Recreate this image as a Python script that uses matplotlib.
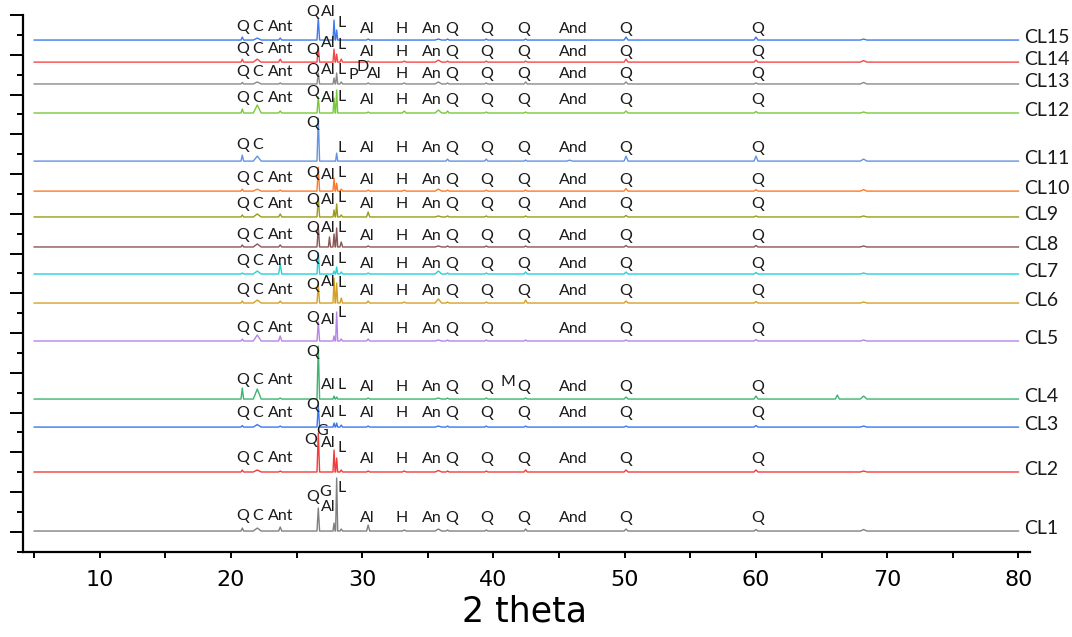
"""Stacked XRD patterns CL1-CL15 with phase labels"""
import matplotlib

matplotlib.use("Agg")
import matplotlib.pyplot as plt
import numpy as np
from matplotlib.ticker import MultipleLocator

# Samples, bottom to top
samples = ["CL1", "CL2", "CL3", "CL4", "CL5", "CL6", "CL7", "CL8",
           "CL9", "CL10", "CL11", "CL12", "CL13", "CL14", "CL15"]
colors = ["#808080", "#f23b3b", "#3a78f2", "#3cb370", "#b585e6", "#d6a025",
          "#26d0dc", "#8a5656", "#9b9b17", "#ff7a2a", "#6393e0", "#78c83c",
          "#8a8a8a", "#f54848", "#3b7af0"]
# vertical offset of each pattern (in y tick steps)
offsets = [1.04, 4.01, 6.27, 7.68, 10.6, 12.51, 13.97, 15.33,
           16.84, 18.14, 19.65, 22.07, 23.53, 24.63, 25.74]

# 2 theta range of the scans
two_theta_start, two_theta_end = 5.0, 80.0

# peak positions (2 theta), half widths and heights
peak_pos = [20.86, 22.0, 23.75, 26.65, 27.5, 27.85, 28.05, 28.4, 30.45, 33.2,
            35.8, 36.5, 39.45, 42.45, 45.8, 50.1, 60.0, 66.2, 68.2]
peak_hw = [0.1, 0.3, 0.12, 0.1, 0.08, 0.08, 0.08, 0.1, 0.12, 0.15,
           0.25, 0.12, 0.12, 0.12, 0.2, 0.15, 0.15, 0.15, 0.25]
heights = [
    [3, 3, 4, 23, 0, 8, 53, 2, 6, 1, 2, 1, 1, 2, 0, 2, 1.5, 0, 1.5],      # CL1
    [2, 2, 1, 39, 0, 22, 14, 2, 1, 1, 1.5, 1, 1, 2, 0, 2, 2, 0, 1],       # CL2
    [1.5, 2.5, 1, 22, 0, 4, 4, 2, 1, 0, 1, 1, 1, 1, 0, 1, 1.5, 0, 1],     # CL3
    [11, 10, 1, 53, 0, 3, 2, 0, 1, 0, 1, 1, 1, 1, 0, 2, 3, 4, 3],         # CL4
    [2, 6, 5, 19, 0, 5, 29, 2, 2, 0, 1, 1, 1, 1, 0, 1, 1.5, 0, 1],        # CL5
    [2, 3, 2, 18, 0, 25, 20, 5, 2, 1, 4, 1, 1, 3, 0, 2, 1.5, 0, 1],       # CL6
    [1, 3, 10, 21, 0, 3, 7, 2, 1, 0, 3, 1, 1, 2, 0, 2, 1.5, 0, 1],        # CL7
    [2, 3, 2, 20, 10, 13, 19, 5, 1, 0, 1, 1, 1, 1, 0, 1.5, 1.5, 0, 1],    # CL8
    [2, 3, 3, 20, 0, 7, 13, 2, 5, 0, 1, 1, 1, 1, 0, 1.5, 1, 0, 1],        # CL9
    [2, 2, 1, 24, 0, 13, 8, 2, 1, 1, 2, 1, 1, 1, 0, 2.5, 1.5, 0, 1.5],    # CL10
    [6, 5, 0, 43, 0, 0, 8, 0, 0, 0, 0, 2, 2, 1, 1, 5, 5, 0, 2],           # CL11
    [4, 8, 2, 16, 0, 15, 23, 0, 1, 2, 3, 2, 1, 1, 0, 2, 1.5, 0, 1],       # CL12
    [1.5, 2, 1, 11, 0, 6, 11, 2, 1, 1, 2, 1, 1, 2, 0, 2, 1, 0, 1.5],      # CL13
    [3, 3, 3, 15, 0, 13, 8, 3, 1, 1, 2, 1, 1, 1, 0, 3, 2, 0, 1.5],        # CL14
    [3, 2, 2, 22, 0, 20, 10, 0, 1, 0, 1, 1, 1, 1, 0, 3, 3, 0, 1],         # CL15
]
px_per_step = 19.88  # heights above are in pixels of the original figure

# phase labels
label_text = ["Q", "C", "Ant", "Q", "Al", "L", "Al", "H", "An", "Q", "Q", "Q", "And", "Q", "Q"]
label_x = [20.9, 22.06, 23.8, 26.2, 27.4, 28.4, 30.4, 33.0, 35.3, 36.8, 39.5, 42.3, 46.1, 50.1, 60.1]
# label lift above baseline (pixels): Q/C/Ant, main Q, Al, L, the rest
lift_left = [15, 14, 14, 19, 13, 13, 13, 12, 13, 13, 16, 15, 12, 13, 13]
lift_q = [34, 32, 22, 47, 23, 18, 17, 19, 17, 18, 38, 21, 14, 12, 28]
lift_al = [24, 29, 14, 14, 21, 21, 12, 19, 17, 16, 0, 15, 14, 19, 28]
lift_l = [43, 24, 15, 14, 28, 20, 15, 19, 19, 18, 13, 16, 14, 17, 17]
lift_right = [13, 13, 14, 12, 12, 12, 10, 11, 13, 11, 13, 13, 10, 10, 11]
missing = {10: [2, 4], 4: [11]}
x_override = {(12, 6): 30.9, (1, 3): 26.1}
extra_labels = [(0, "G", 27.15, 39), (1, "G", 26.95, 41), (12, "P", 29.3, 9),
                (12, "D", 30.0, 17), (3, "M", 41.1, 17)]

fig = plt.figure(figsize=(10.72, 6.37), dpi=100)
ax = fig.add_axes([23 / 1072, 1 - 551.7 / 637, 1007 / 1072, 536.7 / 637])

label_font = dict(family=["Lato", "DejaVu Sans"], fontsize=11.5, color="#1a1a1a",
                  ha="center", va="center")

for i, name in enumerate(samples):
    base = offsets[i]
    # polyline through baseline and peak apexes
    xs, ys = [two_theta_start], [base]
    for p, hw, h in zip(peak_pos, peak_hw, heights[i]):
        if h <= 0:
            continue
        xs += [p - hw, p, p + hw]
        ys += [base, base + h / px_per_step, base]
    xs.append(two_theta_end)
    ys.append(base)
    ax.plot(xs, ys, color=colors[i], lw=1.0)

    # labels
    for k, (t, x) in enumerate(zip(label_text, label_x)):
        if k in missing.get(i, []):
            continue
        if k < 3:
            lift = lift_left[i]
        elif k == 3:
            lift = lift_q[i]
        elif k == 4:
            lift = lift_al[i]
        elif k == 5:
            lift = lift_l[i]
        else:
            lift = lift_right[i]
        x = x_override.get((i, k), x)
        ax.text(x, base + lift / px_per_step, t, **label_font)

    ax.text(80.45, base + 0.12, name, family=["Lato", "DejaVu Sans"], fontsize=14,
            color="#1a1a1a", ha="left", va="center", clip_on=False)

for i, t, x, lift in extra_labels:
    ax.text(x, offsets[i] + lift / px_per_step, t, **label_font)

ax.set_xlim(4.15, 80.88)
ax.set_ylim(0, 27)
ax.xaxis.set_major_locator(MultipleLocator(10))
ax.xaxis.set_minor_locator(MultipleLocator(5))
ax.yaxis.set_major_locator(MultipleLocator(2, offset=1))
ax.yaxis.set_minor_locator(MultipleLocator(1))
ax.set_xticks(np.arange(10, 81, 10))
ax.set_yticklabels([])
ax.tick_params(axis="y", which="major", direction="out", length=9.5, width=1.4)
ax.tick_params(axis="y", which="minor", direction="out", length=4.5, width=1.4)
ax.tick_params(axis="x", which="both", direction="out", length=4, width=1.4,
               labelsize=16, pad=9)
for s in ["top", "right"]:
    ax.spines[s].set_visible(False)
for s in ["left", "bottom"]:
    ax.spines[s].set_linewidth(1.6)

ax.set_xlabel("2 theta", fontsize=25, va="center")
ax.xaxis.set_label_coords((525 - 23) / 1007, (551.7 - 612) / 536.7)

plt.savefig("out.png", dpi=100)
